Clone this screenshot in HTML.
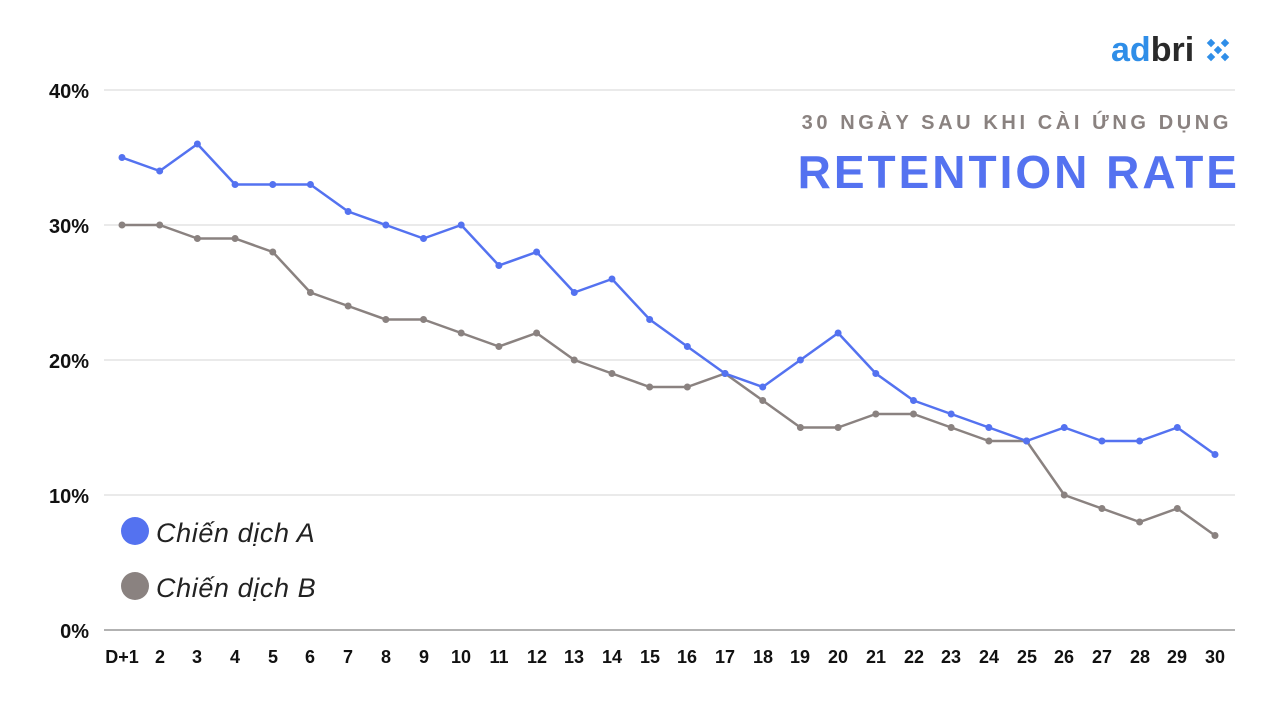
<!DOCTYPE html>
<html><head><meta charset="utf-8"><style>
body{margin:0;background:#fff;width:1280px;height:720px;overflow:hidden;font-family:"Liberation Sans","DejaVu Sans",sans-serif}
</style></head><body>
<svg width="1280" height="720" viewBox="0 0 1280 720" xmlns="http://www.w3.org/2000/svg" font-family="Liberation Sans, DejaVu Sans, sans-serif">
<g stroke="#e3e3e3" stroke-width="1.5">
<line x1="104" y1="90" x2="1235" y2="90"/><line x1="104" y1="225" x2="1235" y2="225"/><line x1="104" y1="360" x2="1235" y2="360"/><line x1="104" y1="495" x2="1235" y2="495"/>
</g>
<line x1="104" y1="630" x2="1235" y2="630" stroke="#999" stroke-width="1.5"/>
<g font-size="20" font-weight="bold" fill="#111" text-anchor="end">
<text x="89" y="98">40%</text><text x="89" y="233">30%</text><text x="89" y="368">20%</text><text x="89" y="503">10%</text><text x="89" y="638">0%</text>
</g>
<g font-size="18" font-weight="bold" fill="#111" text-anchor="middle">
<text x="122" y="663">D+1</text><text x="160" y="663">2</text><text x="197" y="663">3</text><text x="235" y="663">4</text><text x="273" y="663">5</text><text x="310" y="663">6</text><text x="348" y="663">7</text><text x="386" y="663">8</text><text x="424" y="663">9</text><text x="461" y="663">10</text><text x="499" y="663">11</text><text x="537" y="663">12</text><text x="574" y="663">13</text><text x="612" y="663">14</text><text x="650" y="663">15</text><text x="687" y="663">16</text><text x="725" y="663">17</text><text x="763" y="663">18</text><text x="800" y="663">19</text><text x="838" y="663">20</text><text x="876" y="663">21</text><text x="914" y="663">22</text><text x="951" y="663">23</text><text x="989" y="663">24</text><text x="1027" y="663">25</text><text x="1064" y="663">26</text><text x="1102" y="663">27</text><text x="1140" y="663">28</text><text x="1177" y="663">29</text><text x="1215" y="663">30</text>
</g>
<g id="series"></g>
<text x="1232" y="129" font-size="20" font-weight="bold" fill="#8a8280" text-anchor="end" letter-spacing="3.6">30 NGÀY SAU KHI CÀI ỨNG DỤNG</text>
<text x="1240" y="188" font-size="46" font-weight="bold" fill="#5472f0" text-anchor="end" letter-spacing="3">RETENTION RATE</text>
<text x="1111" y="61" font-size="34" font-weight="bold" fill="#2f8ee8" letter-spacing="0">ad<tspan fill="#2a2a2a">bri</tspan></text>
<g fill="#2f8ee8"><rect x="1208" y="40" width="6" height="6" transform="rotate(45 1211 43)"/><rect x="1222" y="40" width="6" height="6" transform="rotate(45 1225 43)"/><rect x="1215" y="47" width="6" height="6" transform="rotate(45 1218 50)"/><rect x="1208" y="54" width="6" height="6" transform="rotate(45 1211 57)"/><rect x="1222" y="54" width="6" height="6" transform="rotate(45 1225 57)"/></g>
<circle cx="135" cy="531" r="14" fill="#5472f0"/>
<text x="156" y="542" font-size="27" font-style="italic" fill="#222" letter-spacing="0.6">Chiến dịch A</text>
<circle cx="135" cy="586" r="14" fill="#8a8280"/>
<text x="156" y="597" font-size="27" font-style="italic" fill="#222" letter-spacing="0.6">Chiến dịch B</text>
</svg>
<script>
var A=[35,34,36,33,33,33,31,30,29,30,27,28,25,26,23,21,19,18,20,22,19,17,16,15,14,15,14,14,15,13];
var B=[30,30,29,29,28,25,24,23,23,22,21,22,20,19,18,18,19,17,15,15,16,16,15,14,14,10,9,8,9,7];
var g=document.getElementById('series'),ns='http://www.w3.org/2000/svg';
function draw(d,c){var p=d.map(function(v,i){return (122+i*37.69).toFixed(1)+','+(630-v*13.5).toFixed(1)}).join(' ');
var l=document.createElementNS(ns,'polyline');l.setAttribute('points',p);l.setAttribute('fill','none');l.setAttribute('stroke',c);l.setAttribute('stroke-width','2.5');l.setAttribute('stroke-linejoin','round');g.appendChild(l);
d.forEach(function(v,i){var e=document.createElementNS(ns,'circle');e.setAttribute('cx',122+i*37.69);e.setAttribute('cy',630-v*13.5);e.setAttribute('r','3.5');e.setAttribute('fill',c);g.appendChild(e);});}
draw(B,'#8a8280');draw(A,'#5472f0');
</script>
</body></html>
